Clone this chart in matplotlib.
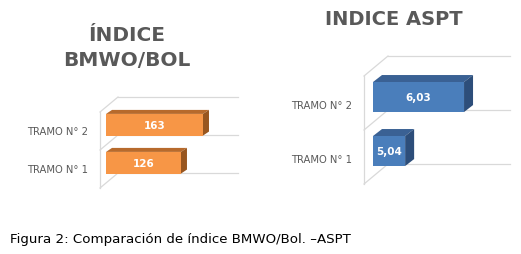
import matplotlib
matplotlib.use("Agg")
import matplotlib.pyplot as plt
from matplotlib.patches import Polygon

# data
categories = ["TRAMO N° 1", "TRAMO N° 2"]
bmwo_values = [126, 163]
bmwo_labels = ["126", "163"]
aspt_values = [5.04, 6.03]
aspt_labels = ["5,04", "6,03"]

W, H = 521, 255
fig = plt.figure(figsize=(W / 100, H / 100), dpi=100)
fig.patch.set_facecolor("white")

grid_col = "#D9D9D9"
text_col = "#595959"


def pseudo3d_barh(rect, vmin, sx, xpx0, sy_px, values, labels,
                  cols, depth, wall, bar_off, bar_h, lab_off, pad):
    # rect in pixels: (left, top, right, bottom) of the back wall
    l, t, r, b = rect
    ax = fig.add_axes([l / W, (H - b) / H, (r - l) / W, (b - t) / H])
    ax.set_xlim(vmin + (l - xpx0) / sx, vmin + (r - xpx0) / sx)
    ax.set_ylim(-0.5, 1.5)
    for s in ax.spines.values():
        s.set_visible(False)
    ax.set_xticks([])
    ax.set_yticks([i + lab_off for i in range(len(categories))])
    ax.set_yticklabels(categories, fontsize=7.2, color=text_col)
    ax.tick_params(axis="y", length=0, pad=pad)

    x0, x1 = ax.get_xlim()
    # back wall gridlines
    for g in (-0.5, 0.5, 1.5):
        ax.plot([x0, x1], [g, g], color=grid_col, lw=0.9, clip_on=False)
    # side wall
    wdx, wdy = wall[0] / sx, wall[1] / sy_px
    for g in (-0.5, 0.5, 1.5):
        ax.plot([x0, x0 + wdx], [g, g + wdy], color=grid_col, lw=0.9,
                clip_on=False)
    ax.plot([x0 + wdx, x0 + wdx], [-0.5 + wdy, 1.5 + wdy], color=grid_col,
            lw=0.9, clip_on=False)

    front, top, side = cols
    ddx, ddy = depth[0] / sx, depth[1] / sy_px
    ys = [i + bar_off for i in range(len(values))]
    ax.barh(ys, [v - vmin for v in values], left=vmin, height=bar_h,
            color=front, clip_on=False, zorder=3)
    for y, v, lab in zip(ys, values, labels):
        y0, y1 = y - bar_h / 2, y + bar_h / 2
        ax.add_patch(Polygon([(vmin, y1), (v, y1), (v + ddx, y1 + ddy),
                              (vmin + ddx, y1 + ddy)], closed=True,
                             facecolor=top, edgecolor="none", clip_on=False,
                             zorder=2))
        ax.add_patch(Polygon([(v, y0), (v, y1), (v + ddx, y1 + ddy),
                              (v + ddx, y0 + ddy)], closed=True,
                             facecolor=side, edgecolor="none", clip_on=False,
                             zorder=2))
        ax.text((vmin + v) / 2, y, lab, ha="center", va="center",
                color="white", fontsize=7.5, fontweight="bold", zorder=4)
    return ax


# left chart: BMWO/Bol
pseudo3d_barh((118, 98, 238, 174), 0, 0.595, 106, 38, bmwo_values,
              bmwo_labels, ("#F79646", "#B76A2C", "#98561F"),
              depth=(6, 4), wall=(-18, -15), bar_off=-0.23, bar_h=0.57,
              lab_off=-0.38, pad=21.6)

# right chart: ASPT
pseudo3d_barh((388, 57, 510, 165), 4.5, 59.5, 373, 54, aspt_values,
              aspt_labels, ("#4A7EBB", "#3A6194", "#2D4E7A"),
              depth=(9, 7), wall=(-24, -20), bar_off=-0.26, bar_h=0.556,
              lab_off=-0.38, pad=26)

fig.text(127 / W, 1 - 48 / H, "ÍNDICE\nBMWO/BOL", ha="center", va="center",
         fontsize=14.5, fontweight="bold", color=text_col, linespacing=1.45)
fig.text(394 / W, 1 - 20 / H, "INDICE ASPT", ha="center", va="center",
         fontsize=14, fontweight="bold", color=text_col)

fig.text(10 / W, 1 - 240 / H, "Figura 2: Comparación de índice BMWO/Bol. –ASPT",
         ha="left", va="center", fontsize=9.6, color="black")

fig.savefig("out.png", dpi=100)
